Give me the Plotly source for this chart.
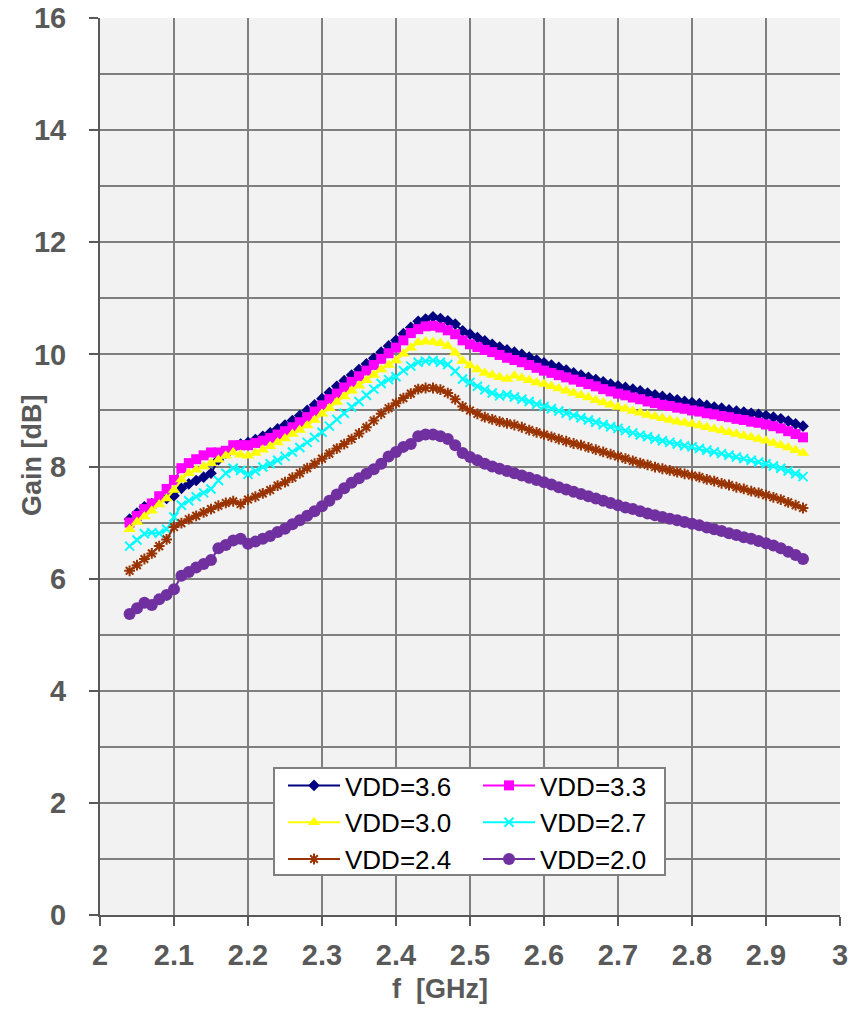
import plotly.graph_objects as go

# Frequency points (GHz)
freq = [2.04, 2.05, 2.06, 2.07, 2.08, 2.09, 2.10, 2.11, 2.12, 2.13, 2.14, 2.15, 2.16, 2.17, 2.18, 2.19, 2.20,
        2.21, 2.22, 2.23, 2.24, 2.25, 2.26, 2.27, 2.28, 2.29, 2.30, 2.31, 2.32, 2.33, 2.34, 2.35, 2.36, 2.37, 2.38, 2.39, 2.40,
        2.41, 2.42, 2.43, 2.44, 2.45, 2.46, 2.47, 2.48, 2.49, 2.50, 2.51, 2.52, 2.53, 2.54, 2.55, 2.56, 2.57, 2.58, 2.59, 2.60,
        2.61, 2.62, 2.63, 2.64, 2.65, 2.66, 2.67, 2.68, 2.69, 2.70, 2.71, 2.72, 2.73, 2.74, 2.75, 2.76, 2.77, 2.78, 2.79, 2.80,
        2.81, 2.82, 2.83, 2.84, 2.85, 2.86, 2.87, 2.88, 2.89, 2.90, 2.91, 2.92, 2.93, 2.94, 2.95]

# Gain (dB) per supply voltage
gain_vdd36 = [7.06, 7.17, 7.28, 7.34, 7.40, 7.43, 7.48, 7.61, 7.69, 7.75, 7.81, 7.88, 8.12, 8.24, 8.33, 8.40, 8.43,
              8.48, 8.54, 8.60, 8.67, 8.74, 8.82, 8.91, 9.00, 9.10, 9.21, 9.32, 9.43, 9.53, 9.63, 9.73, 9.83, 9.93, 10.04, 10.15, 10.25,
              10.37, 10.48, 10.59, 10.63, 10.67, 10.64, 10.60, 10.54, 10.42, 10.36, 10.30, 10.24, 10.18, 10.13, 10.08, 10.04, 10.00, 9.95, 9.90, 9.85,
              9.81, 9.77, 9.72, 9.67, 9.63, 9.59, 9.55, 9.51, 9.47, 9.44, 9.41, 9.38, 9.35, 9.31, 9.28, 9.25, 9.22, 9.19, 9.16, 9.14,
              9.12, 9.09, 9.06, 9.04, 9.01, 8.99, 8.97, 8.95, 8.93, 8.91, 8.88, 8.85, 8.81, 8.76, 8.72]

gain_vdd33 = [7.00, 7.12, 7.24, 7.34, 7.47, 7.60, 7.76, 7.97, 8.06, 8.13, 8.20, 8.25, 8.25, 8.28, 8.38, 8.38, 8.38,
              8.42, 8.46, 8.51, 8.57, 8.63, 8.70, 8.79, 8.88, 8.98, 9.09, 9.20, 9.30, 9.41, 9.51, 9.61, 9.71, 9.81, 9.92, 10.02, 10.12,
              10.25, 10.38, 10.45, 10.50, 10.51, 10.48, 10.43, 10.36, 10.25, 10.18, 10.13, 10.08, 10.04, 9.99, 9.94, 9.90, 9.86, 9.81, 9.76, 9.71,
              9.67, 9.63, 9.59, 9.55, 9.51, 9.47, 9.43, 9.38, 9.34, 9.30, 9.27, 9.23, 9.20, 9.16, 9.13, 9.10, 9.08, 9.05, 9.03, 9.00,
              8.98, 8.95, 8.93, 8.90, 8.88, 8.85, 8.83, 8.80, 8.78, 8.75, 8.72, 8.68, 8.63, 8.58, 8.52]

gain_vdd30 = [6.88, 7.01, 7.11, 7.21, 7.32, 7.43, 7.58, 7.77, 7.88, 7.94, 8.00, 8.06, 8.12, 8.19, 8.25, 8.21, 8.19,
              8.24, 8.30, 8.36, 8.43, 8.50, 8.58, 8.65, 8.73, 8.83, 8.94, 9.04, 9.15, 9.25, 9.35, 9.44, 9.54, 9.63, 9.73, 9.81, 9.89,
              10.01, 10.12, 10.21, 10.23, 10.22, 10.20, 10.15, 10.03, 9.88, 9.80, 9.73, 9.67, 9.63, 9.59, 9.56, 9.62, 9.58, 9.54, 9.50, 9.47,
              9.43, 9.39, 9.35, 9.31, 9.27, 9.23, 9.18, 9.14, 9.10, 9.06, 9.03, 8.99, 8.96, 8.92, 8.89, 8.86, 8.83, 8.80, 8.78, 8.76,
              8.73, 8.70, 8.67, 8.64, 8.61, 8.58, 8.55, 8.52, 8.49, 8.46, 8.42, 8.38, 8.34, 8.29, 8.24]

gain_vdd27 = [6.58, 6.69, 6.80, 6.82, 6.81, 6.88, 7.10, 7.31, 7.39, 7.46, 7.53, 7.60, 7.75, 7.88, 7.97, 7.93, 7.86,
              7.92, 7.99, 8.05, 8.11, 8.18, 8.26, 8.34, 8.43, 8.52, 8.61, 8.72, 8.84, 8.95, 9.06, 9.16, 9.27, 9.38, 9.48, 9.55, 9.60,
              9.71, 9.79, 9.86, 9.88, 9.89, 9.86, 9.82, 9.70, 9.56, 9.50, 9.43, 9.37, 9.31, 9.26, 9.28, 9.24, 9.20, 9.16, 9.11, 9.07,
              9.03, 8.99, 8.95, 8.91, 8.87, 8.83, 8.79, 8.75, 8.71, 8.68, 8.64, 8.60, 8.56, 8.53, 8.49, 8.46, 8.43, 8.40, 8.37, 8.35,
              8.32, 8.29, 8.26, 8.23, 8.20, 8.17, 8.14, 8.11, 8.08, 8.05, 8.01, 7.97, 7.92, 7.87, 7.82]

gain_vdd24 = [6.14, 6.24, 6.35, 6.45, 6.58, 6.70, 6.92, 6.99, 7.06, 7.12, 7.18, 7.24, 7.30, 7.35, 7.38, 7.33, 7.41,
              7.46, 7.52, 7.58, 7.66, 7.72, 7.80, 7.88, 7.97, 8.05, 8.14, 8.23, 8.32, 8.40, 8.49, 8.59, 8.70, 8.82, 8.94, 9.04, 9.13,
              9.22, 9.30, 9.38, 9.40, 9.40, 9.37, 9.31, 9.20, 9.07, 9.00, 8.94, 8.88, 8.84, 8.80, 8.77, 8.74, 8.70, 8.65, 8.61, 8.57,
              8.53, 8.49, 8.45, 8.41, 8.38, 8.34, 8.30, 8.26, 8.22, 8.18, 8.14, 8.10, 8.06, 8.03, 7.99, 7.96, 7.93, 7.90, 7.87, 7.84,
              7.81, 7.77, 7.74, 7.70, 7.67, 7.63, 7.60, 7.56, 7.53, 7.49, 7.45, 7.41, 7.36, 7.31, 7.26]

gain_vdd20 = [5.37, 5.47, 5.57, 5.53, 5.63, 5.71, 5.81, 6.05, 6.12, 6.20, 6.26, 6.33, 6.54, 6.60, 6.68, 6.71, 6.62,
              6.66, 6.71, 6.76, 6.83, 6.89, 6.97, 7.04, 7.12, 7.20, 7.29, 7.39, 7.50, 7.61, 7.71, 7.79, 7.87, 7.95, 8.05, 8.18, 8.26,
              8.35, 8.40, 8.54, 8.57, 8.57, 8.54, 8.49, 8.38, 8.24, 8.17, 8.11, 8.05, 8.00, 7.96, 7.92, 7.88, 7.84, 7.80, 7.76, 7.72,
              7.68, 7.63, 7.59, 7.55, 7.51, 7.47, 7.43, 7.39, 7.35, 7.31, 7.27, 7.24, 7.20, 7.16, 7.13, 7.10, 7.07, 7.04, 7.01, 6.98,
              6.95, 6.91, 6.88, 6.85, 6.81, 6.78, 6.74, 6.71, 6.67, 6.63, 6.59, 6.54, 6.48, 6.42, 6.35]

series_names = ["VDD=3.6", "VDD=3.3", "VDD=3.0", "VDD=2.7", "VDD=2.4", "VDD=2.0"]
x_ticks = [2.0, 2.1, 2.2, 2.3, 2.4, 2.5, 2.6, 2.7, 2.8, 2.9, 3.0]
x_tick_text = ["2", "2.1", "2.2", "2.3", "2.4", "2.5", "2.6", "2.7", "2.8", "2.9", "3"]
y_ticks = [0, 2, 4, 6, 8, 10, 12, 14, 16]

gains = [gain_vdd36, gain_vdd33, gain_vdd30, gain_vdd27, gain_vdd24, gain_vdd20]

styles = [
    dict(color="#000080", symbol="diamond", size=9, open=False),
    dict(color="#FF00FF", symbol="square", size=10, open=False),
    dict(color="#FFFF00", symbol="triangle-up", size=11, open=False),
    dict(color="#00FFFF", symbol="x-thin-open", size=9, open=True),
    dict(color="#993300", symbol="asterisk-open", size=9, open=True),
    dict(color="#7030A0", symbol="circle", size=12, open=False),
]

FONT = "Liberation Sans, Arial, sans-serif"
TXT = "#595959"

# plot area in pixels
PL, PR, PT, PB = 100, 840, 18, 915
PW, PH = PR - PL, PB - PT


def px_x(px):
    return (px - PL) / PW


def px_y(py):
    return (PB - py) / PH


fig = go.Figure()
for i, (name, g, st) in enumerate(zip(series_names, gains, styles)):
    marker = dict(symbol=st["symbol"], size=st["size"], color=st["color"])
    if st["open"]:
        marker["line"] = dict(color=st["color"], width=2)
    else:
        marker["line"] = dict(width=0)
    fig.add_trace(go.Scatter(
        x=freq, y=g, name=name, mode="lines+markers",
        line=dict(color=st["color"], width=2),
        marker=marker,
        legend="legend" if i % 2 == 0 else "legend2",
    ))

# Legend frame
fig.add_shape(type="rect", xref="paper", yref="paper",
              x0=px_x(274), x1=px_x(665), y0=px_y(875), y1=px_y(768),
              fillcolor="white", line=dict(color="#808080", width=2), layer="above")

legend_common = dict(
    font=dict(family=FONT, size=26, color="black"),
    bgcolor="rgba(0,0,0,0)", borderwidth=0, itemwidth=52,
    orientation="v", tracegroupgap=0,
    xanchor="left", yanchor="top",
    itemclick=False, itemdoubleclick=False,
)

fig.update_layout(
    width=864, height=1010,
    margin=dict(l=PL, r=864 - PR, t=PT, b=1010 - PB, autoexpand=False),
    paper_bgcolor="white",
    plot_bgcolor="#F2F2F2",
    showlegend=True,
    legend=dict(x=px_x(283), y=px_y(762), **legend_common),
    legend2=dict(x=px_x(478), y=px_y(762), **legend_common),
    xaxis=dict(
        range=[2, 3], tickmode="array", tickvals=x_ticks, ticktext=x_tick_text,
        showgrid=True, gridcolor="#7F7F7F", gridwidth=2,
        showline=True, linecolor="#595959", linewidth=2,
        ticks="outside", ticklen=9, tickwidth=2, tickcolor="#595959",
        ticklabelstandoff=4,
        tickfont=dict(family=FONT, size=29, color=TXT, weight="bold"),
        zeroline=False,
    ),
    yaxis=dict(
        range=[0, 16], tickmode="array", tickvals=y_ticks,
        showgrid=True, gridcolor="#7F7F7F", gridwidth=2,
        minor=dict(dtick=1, showgrid=True, gridcolor="#7F7F7F", gridwidth=2, ticks=""),
        showline=True, linecolor="#595959", linewidth=2,
        ticks="outside", ticklen=9, tickwidth=2, tickcolor="#595959",
        ticklabelstandoff=17,
        tickfont=dict(family=FONT, size=29, color=TXT, weight="bold"),
        zeroline=False,
    ),
    annotations=[
        dict(text="f\u00a0\u00a0[GHz]", xref="paper", yref="paper", x=px_x(440), y=px_y(989),
             xanchor="center", yanchor="middle", showarrow=False,
             font=dict(family=FONT, size=27, color=TXT, weight="bold")),
        dict(text="Gain [dB]", xref="paper", yref="paper", x=px_x(32), y=px_y(455),
             xanchor="center", yanchor="middle", showarrow=False, textangle=-90,
             font=dict(family=FONT, size=27, color=TXT, weight="bold")),
    ],
)

fig.write_html("out.html")
